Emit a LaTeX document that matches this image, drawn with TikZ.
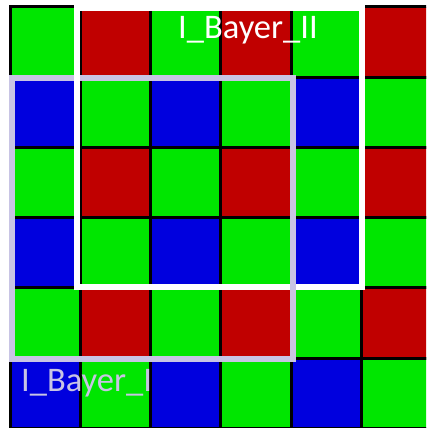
\documentclass[tikz,border=0pt]{standalone}
\usepackage{fontspec}
\setmainfont{Carlito}
\definecolor{bayergreen}{RGB}{0,230,0}
\definecolor{bayerred}{RGB}{192,0,0}
\definecolor{bayerblue}{RGB}{0,0,222}
\definecolor{framelav}{RGB}{200,196,228}

\begin{document}
\begin{tikzpicture}[x=1pt, y=-1pt,
    cell/.style={draw=black, line width=3pt},
    frame/.style={line width=6pt},
    lbl/.style={font=\fontsize{34.5}{40}\selectfont, inner sep=0pt, anchor=base west}]
    \useasboundingbox (0,0) rectangle (426,428);
    \begin{scope}
        \clip (0,0) rectangle (426,428);
        \foreach \r in {0,...,5} {
            \foreach \c in {0,...,5} {
                \pgfmathtruncatemacro\k{mod(\r,2)*2+mod(\c,2)}
                \edef\col{\ifcase\k bayergreen\or bayerred\or bayerblue\or bayergreen\fi}
                \filldraw[cell, fill=\col] ({10+70.3*\c},{7+70.2*\r}) rectangle +(70.3,70.2);
            }
        }
    \end{scope}

    \draw[frame, framelav] (11.5,78) rectangle (293,358.5);
    \draw[frame, white] (77,8.5) rectangle (361.5,286.5);
    \draw[frame, framelav] (293,270) -- (293,300);

    \node[lbl, text=white] (bayerII) at (178,38) {I\_Bayer\_II};
    \node[lbl, text=framelav] (bayerI) at (21,391) {I\_Bayer\_I};
\end{tikzpicture}
\end{document}
